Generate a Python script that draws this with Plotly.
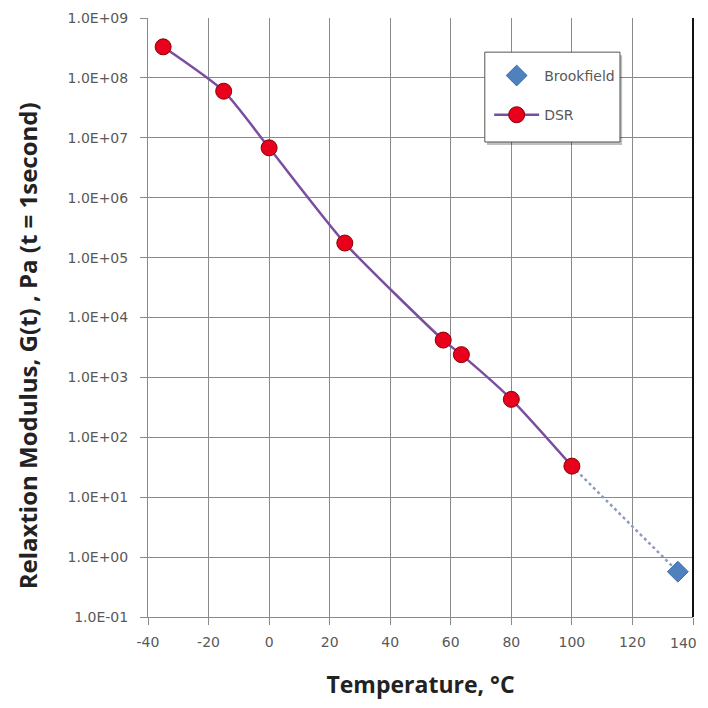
import plotly.graph_objects as go

dsr_temp = [-35, -15, 0, 25, 57.5, 63.5, 80, 100]
dsr_modulus = [3.3e8, 6.0e7, 6.8e6, 1.75e5, 4.2e3, 2.4e3, 4.3e2, 3.3e1]
brook_temp = [135]
brook_modulus = [0.57]
ext_temp = [100, 135]
ext_modulus = [3.3e1, 0.57]
y_exps = list(range(-1, 10))
y_ticktext = ["1.0E" + ("+" if e >= 0 else "-") + "%02d" % abs(e) for e in y_exps]
x_ticks = list(range(-40, 141, 20))

TICK_FONT = dict(family="DejaVu Sans, Verdana, sans-serif", size=14, color="#595959")
TITLE_FONT = dict(family="Open Sans, Liberation Sans, sans-serif", size=23, color="#222222")
YTITLE_FONT = dict(family="Open Sans, Liberation Sans, sans-serif", size=24, color="#222222")

fig = go.Figure()
fig.add_trace(go.Scatter(
    x=ext_temp, y=ext_modulus, mode="lines", showlegend=False,
    line=dict(color="#8C9CC0", width=2.5, dash="dot"), hoverinfo="skip"))
fig.add_trace(go.Scatter(
    x=brook_temp, y=brook_modulus, mode="markers", name="Brookfield",
    legendgroup="a",
    marker=dict(symbol="diamond", size=16, color="#4F81BD",
                line=dict(color="#3A6AA8", width=1))))
fig.add_trace(go.Scatter(
    x=dsr_temp, y=dsr_modulus, mode="lines+markers", name="DSR",
    legendgroup="b",
    line=dict(color="#7A4E9E", width=2.5, shape="spline", smoothing=0.6),
    marker=dict(symbol="circle", size=16, color="#E8001C",
                line=dict(color="#8B0000", width=1))))

# Figure sized to fit inside the page body (8px default body margin)
fig.update_layout(
    width=692, height=692,
    margin=dict(l=140, r=7, t=10, b=83, autoexpand=False),
    paper_bgcolor="white", plot_bgcolor="white",
    font=dict(family="DejaVu Sans, sans-serif", color="#595959", size=13),
    legend=dict(x=0.626, y=0.930, xanchor="left", yanchor="top",
                bgcolor="rgba(0,0,0,0)", borderwidth=0,
                font=dict(size=14, color="#595959", family="DejaVu Sans, sans-serif"),
                traceorder="grouped", tracegroupgap=18,
                itemwidth=45),
    showlegend=True,
)
fig.update_xaxes(
    range=[-40, 140], tickvals=x_ticks, ticktext=[str(v) for v in x_ticks],
    showgrid=True, gridcolor="#8A8A8A", gridwidth=1,
    showline=True, linecolor="#8A8A8A", mirror=False,
    ticks="outside", ticklen=7, tickcolor="#8A8A8A",
    ticklabelstandoff=5,
    zeroline=False,
    tickfont=TICK_FONT,
    title=dict(text="<b>Temperature, °C</b>", standoff=28, font=TITLE_FONT),
)
fig.update_yaxes(
    type="log", range=[-1, 9],
    tickvals=[10.0 ** e for e in y_exps], ticktext=y_ticktext,
    showgrid=True, gridcolor="#8A8A8A", gridwidth=1,
    showline=True, linecolor="#8A8A8A",
    ticks="outside", ticklen=7, tickcolor="#8A8A8A",
    ticklabelstandoff=9,
    zeroline=False,
    tickfont=TICK_FONT,
)
# y-axis title placed as in the reference (slightly below plot centre)
fig.add_annotation(
    text="<b>Relaxtion Modulus, G(t) , Pa (t = 1second)</b>",
    xref="paper", yref="paper", x=-0.222, y=0.452,
    xanchor="center", yanchor="middle", textangle=-90, showarrow=False,
    font=YTITLE_FONT)
# last x tick label (at the right edge, as in the reference)
fig.add_annotation(
    text="140", xref="x", yref="paper", x=140, y=0, yshift=-26, xshift=6,
    xanchor="right", yanchor="middle", showarrow=False, font=TICK_FONT)
# legend box with shadow
fig.add_shape(type="rect", xref="paper", yref="paper",
              x0=0.622, x1=0.870, y0=0.788, y1=0.938,
              line=dict(width=0), fillcolor="rgba(0,0,0,0.25)", layer="above")
fig.add_shape(type="rect", xref="paper", yref="paper",
              x0=0.618, x1=0.866, y0=0.793, y1=0.943,
              line=dict(color="#555555", width=1), fillcolor="white", layer="above")
# right border
fig.add_shape(type="line", xref="paper", yref="paper", x0=1, x1=1, y0=0, y1=1,
              line=dict(color="#111111", width=2))

fig.write_html("out.html")
